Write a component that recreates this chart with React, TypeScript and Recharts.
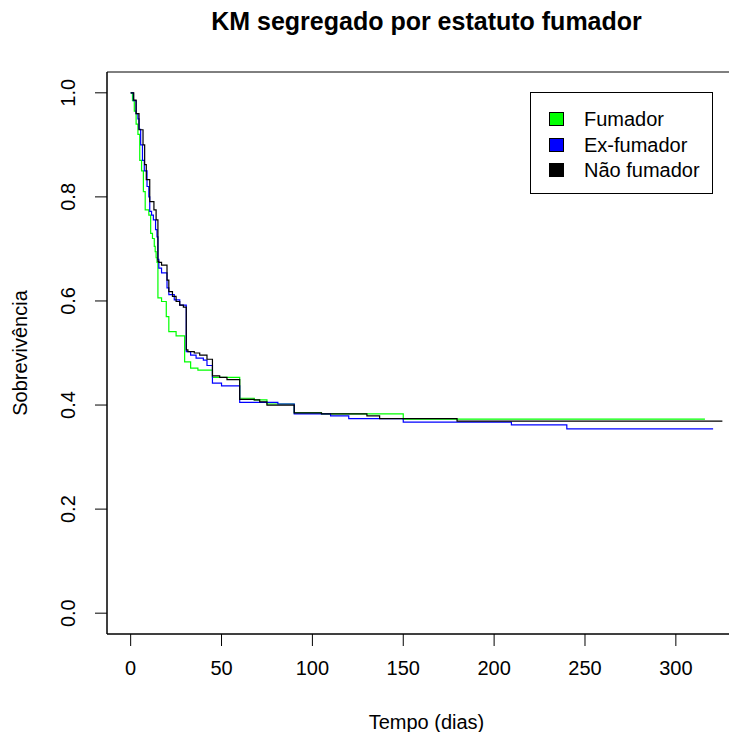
import React from 'react';
import { LineChart, Line, XAxis, YAxis, ReferenceArea, Label } from 'recharts';

// Kaplan-Meier step points (days, survival)
const tFumador = [0, 1, 2, 3, 4, 5, 6, 7, 8, 10, 11, 12, 13, 13.5, 14, 14.5, 15, 17, 19.6, 21, 25, 29.7, 33, 37, 45, 60, 68, 75, 90, 105, 150, 316];
const sFumador = [1.0, 0.985, 0.965, 0.94, 0.92, 0.87, 0.85, 0.81, 0.775, 0.765, 0.73, 0.72, 0.705, 0.695, 0.683, 0.674, 0.606, 0.599, 0.57, 0.541, 0.533, 0.483, 0.471, 0.467, 0.453, 0.413, 0.41, 0.402, 0.385, 0.383, 0.373, 0.373];

const tExFumador = [0, 1.5, 3, 4, 4.6, 5.5, 6.5, 7.5, 9, 10, 10.5, 11.5, 12.5, 13.7, 14.5, 15, 15.5, 17, 20, 21, 24, 27, 30.6, 33, 36, 40, 42, 45, 50, 60, 81, 90, 110, 120, 150, 209.5, 240, 320.5];
const sExFumador = [1.0, 0.985, 0.96, 0.95, 0.93, 0.9, 0.87, 0.85, 0.82, 0.8, 0.772, 0.765, 0.756, 0.737, 0.723, 0.68, 0.663, 0.654, 0.625, 0.612, 0.602, 0.592, 0.5025, 0.496, 0.49, 0.4865, 0.476, 0.442, 0.437, 0.405, 0.402, 0.383, 0.379, 0.374, 0.367, 0.362, 0.354, 0.354];

const tNaoFumador = [0, 1.7, 3, 4.6, 6.8, 7.7, 8.6, 10.5, 12.8, 14, 15, 15.5, 17, 20, 21, 23, 25, 27, 29, 30.6, 31.5, 35, 38, 42, 45, 49, 53, 60, 68, 71, 75, 90, 105, 130, 137, 179.6, 325.6];
const sNaoFumador = [1.0, 0.986, 0.96, 0.929, 0.9, 0.862, 0.833, 0.791, 0.775, 0.756, 0.676, 0.674, 0.669, 0.64, 0.618, 0.609, 0.599, 0.592, 0.588, 0.506, 0.5025, 0.5, 0.496, 0.488, 0.456, 0.453, 0.449, 0.411, 0.41, 0.406, 0.4, 0.385, 0.383, 0.379, 0.374, 0.369, 0.369];

const xTicks = [0, 50, 100, 150, 200, 250, 300];
const yTicks = [0, 0.2, 0.4, 0.6, 0.8, 1.0];

const seriesNames = ['Fumador', 'Ex-fumador', 'Não fumador'];
const seriesColors = ['#00FF00', '#0000FF', '#000000'];

const toRows = (t: number[], s: number[]) => t.map((v, i) => ({ t: v, s: s[i] }));

const series = [
  toRows(tFumador, sFumador),
  toRows(tExFumador, sExFumador),
  toRows(tNaoFumador, sNaoFumador),
];

const font = '"Liberation Sans", Arial, sans-serif';

const YTick = (props: any) => {
  const { x, y, payload } = props;
  const bx = x - 18;
  return (
    <text x={bx} y={y} transform={`rotate(-90, ${bx}, ${y})`} textAnchor="middle" fill="#000" fontSize={20} fontFamily={font}>
      {payload.value.toFixed(1)}
    </text>
  );
};

export default function App() {
  return (
    <div style={{ position: 'relative', width: 737, height: 740, margin: -8, overflow: 'hidden', background: '#fff', fontFamily: font }}>
      <div style={{ position: 'absolute', left: 107, width: 639, top: 9, textAlign: 'center', fontSize: 25, fontWeight: 'bold', lineHeight: '25px' }}>
        KM segregado por estatuto fumador
      </div>
      <LineChart width={760} height={740} margin={{ top: 72, right: 14, bottom: 6, left: 7 }}>
        <XAxis
          type="number"
          dataKey="t"
          domain={[-13.02, 338.6]}
          ticks={xTicks}
          allowDataOverflow
          height={100}
          tickSize={12}
          tickMargin={15}
          stroke="#000"
          tick={{ fill: '#000', fontSize: 20, fontFamily: font }}
        >
          <Label value="Tempo (dias)" position="insideBottom" offset={5} fill="#000" fontSize={20} fontFamily={font} />
        </XAxis>
        <YAxis
          type="number"
          domain={[-0.04, 1.04]}
          ticks={yTicks}
          allowDataOverflow
          width={100}
          tickSize={12}
          stroke="#000"
          tick={<YTick />}
        >
          <Label value="Sobrevivência" position="insideLeft" angle={-90} offset={13} fill="#000" fontSize={20} fontFamily={font} style={{ textAnchor: 'middle' }} />
        </YAxis>
        <ReferenceArea x1={-13.02} x2={338.6} y1={-0.04} y2={1.04} fill="none" stroke="#000" strokeWidth={1} />
        {series.map((d, i) => (
          <Line
            key={seriesNames[i]}
            data={d}
            dataKey="s"
            type="stepAfter"
            stroke={seriesColors[i]}
            strokeWidth={1.2}
            dot={false}
            activeDot={false}
            isAnimationActive={false}
          />
        ))}
      </LineChart>
      <div style={{ position: 'absolute', left: 530, top: 92, width: 181, height: 100, border: '1px solid #000', background: '#fff' }}>
        {seriesNames.map((name, i) => (
          <div key={name} style={{ position: 'absolute', left: 18, top: 16 + i * 25.5, height: 20, display: 'flex', alignItems: 'center' }}>
            <span style={{ display: 'inline-block', width: 13, height: 12, background: seriesColors[i], border: '1px solid #000' }} />
            <span style={{ marginLeft: 20, fontSize: 20, lineHeight: '20px', color: '#000' }}>{name}</span>
          </div>
        ))}
      </div>
    </div>
  );
}
